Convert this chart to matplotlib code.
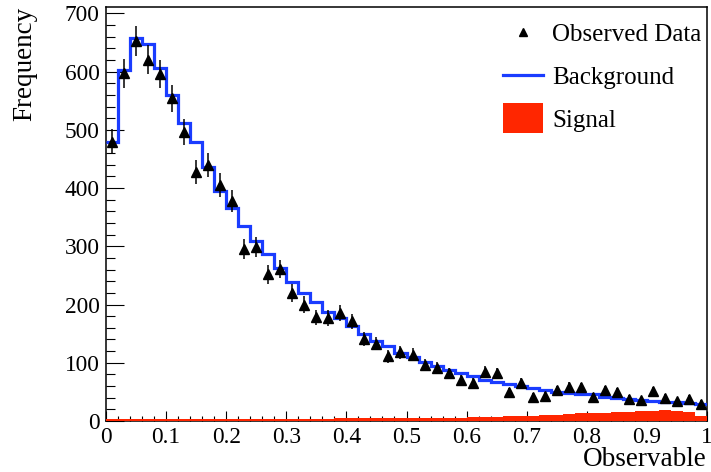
import numpy as np
import matplotlib
matplotlib.use('Agg')
import matplotlib.pyplot as plt
from matplotlib.lines import Line2D
from matplotlib.patches import Patch, Rectangle
from matplotlib.legend_handler import HandlerPatch
from matplotlib.ticker import MultipleLocator, FuncFormatter

# 50 bins between 0 and 1
edges = np.linspace(0, 1, 51)
centers = 0.5 * (edges[:-1] + edges[1:])

observed = [480, 597, 652, 620, 596, 554, 497, 427, 440, 405,
            378, 296, 299, 252, 261, 220, 200, 178, 177, 186,
            171, 141, 133, 111, 118, 114, 96, 91, 82, 71,
            66, 85, 82, 50, 65, 42, 43, 53, 59, 58,
            42, 53, 50, 38, 36, 51, 40, 34, 38, 30]

background = [480, 602, 658, 647, 607, 560, 512, 479, 436, 395,
              365, 335, 309, 286, 263, 238, 220, 205, 187, 177,
              163, 150, 137, 128, 117, 110, 102, 94, 88, 82,
              78, 71, 67, 64, 60, 56, 53, 50, 48, 47,
              46, 42, 39, 37, 36, 35, 33, 32, 31, 30]

signal = [4, 4, 4, 4, 4, 4, 4, 4, 4, 4,
          4, 4, 4, 4, 4, 4, 4, 4, 4, 4.5,
          4.5, 4.5, 4.5, 4.5, 5, 5, 5, 5.5, 6, 6,
          6.5, 7, 7.5, 8, 8.5, 9, 10, 11, 12, 13,
          13, 14, 15, 16, 17, 18, 19, 18, 16, 9]

blue = '#1a3cff'
red = '#ff2600'
plt.rcParams['font.family'] = ['Liberation Serif', 'DejaVu Serif']

fig = plt.figure(figsize=(7.11, 4.72), dpi=100)
ax = fig.add_axes([106 / 711, 51 / 472, 601 / 711, 414 / 472])

# signal drawn over the bottom frame line, as ROOT does
ax.stairs(signal, edges, fill=True, color=red, lw=0, zorder=2.6)
ax.stairs(background, edges, color=blue, lw=2.3, baseline=None, zorder=2.7)
errs = np.sqrt(observed)
ax.errorbar(centers, observed, yerr=errs, fmt='^', color='black',
            ms=7.5, elinewidth=1.1, capsize=0, zorder=2.8)

ax.set_xlim(0, 1)
ax.set_ylim(0, 711)

ax.xaxis.set_major_locator(MultipleLocator(0.1))
ax.xaxis.set_minor_locator(MultipleLocator(0.02))
ax.yaxis.set_major_locator(MultipleLocator(100))
ax.yaxis.set_minor_locator(MultipleLocator(20))
ax.xaxis.set_major_formatter(FuncFormatter(lambda v, p: '%g' % round(v, 2)))

ax.tick_params(axis='both', which='both', direction='in', width=0.8,
               top=False, right=False, labelsize=16.8, pad=4.5)
ax.tick_params(axis='x', which='major', length=7)
ax.tick_params(axis='x', which='minor', length=3.5)
ax.tick_params(axis='y', which='major', length=13)
ax.tick_params(axis='y', which='minor', length=6.5)
for s in ax.spines.values():
    s.set_linewidth(1.1)

ax.set_xlabel('Observable', fontsize=19.5, loc='right')
ax.xaxis.set_label_coords(1.0, -0.062)
ax.set_ylabel('Frequency', fontsize=19.5, loc='top')
ax.yaxis.set_label_coords(-0.115, 1.0)


# taller filled box in the legend, like the ROOT one
def tall_box(legend, orig_handle, xdescent, ydescent, width, height, fontsize):
    extra = 0.2 * height + 2
    return Rectangle((-xdescent, -ydescent - extra), width, height + 2 * extra)


handles = [Line2D([], [], marker='^', color='black', ls='none', ms=6),
           Line2D([], [], color=blue, lw=2.3),
           Patch(facecolor=red, edgecolor='none')]
labels = ['Observed Data', 'Background', 'Signal']
ax.legend(handles, labels, loc='upper left', bbox_to_anchor=(0.6606, 0.960),
          frameon=False, fontsize=18, borderpad=0, borderaxespad=0,
          handlelength=1.6, handletextpad=0.36, labelspacing=0.82,
          handler_map={Patch: HandlerPatch(patch_func=tall_box)})

fig.savefig('out.png', dpi=100)
